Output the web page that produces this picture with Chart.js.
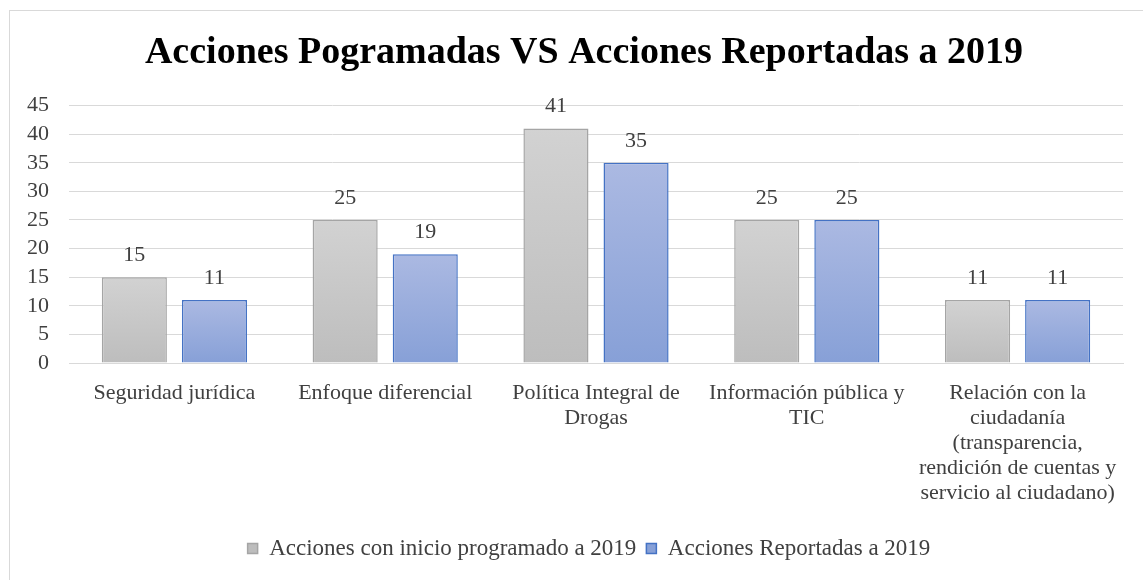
<!DOCTYPE html>
<html>
<head>
<meta charset="utf-8">
<script src="https://cdn.jsdelivr.net/npm/chart.js@4"></script>
<style>
  html, body { margin: 0; padding: 0; background: #fff; }
  #wrap { position: relative; width: 1143px; height: 580px; overflow: hidden; }
  #frame { position: absolute; left: 9px; top: 10px; width: 1160px; height: 600px;
           border: 1px solid #d9d9d9; box-sizing: border-box; }
  canvas { position: absolute; left: 0; top: 0; }
</style>
</head>
<body>
<div id="wrap">
  <div id="frame"></div>
  <canvas id="chart" width="1143" height="580"></canvas>
</div>
<script>
const categories = [
    ['Seguridad jurídica'],
    ['Enfoque diferencial'],
    ['Política Integral de', 'Drogas'],
    ['Información pública y', 'TIC'],
    ['Relación con la', 'ciudadanía', '(transparencia,', 'rendición de cuentas y', 'servicio al ciudadano)']
];
const programadas = [15, 25, 41, 25, 11];
const reportadas = [11, 19, 35, 25, 11];
const yTicks = [0, 5, 10, 15, 20, 25, 30, 35, 40, 45];

const serif = "'Liberation Serif', 'DejaVu Serif', serif";
const textColor = '#404040';

// gradient per bar, from its top down to the zero line
function barGradient(top, bottom) {
    return ctx => {
        const chart = ctx.chart;
        const y = chart.scales.y;
        if (!y || ctx.raw === undefined) return bottom;
        const y0 = y.getPixelForValue(0);
        const y1 = y.getPixelForValue(ctx.raw);
        if (!isFinite(y0) || !isFinite(y1) || y0 === y1) return bottom;
        const g = chart.ctx.createLinearGradient(0, y1, 0, y0);
        g.addColorStop(0, top);
        g.addColorStop(1, bottom);
        return g;
    };
}

const valueLabels = {
    id: 'valueLabels',
    afterDatasetsDraw(chart) {
        const c = chart.ctx;
        c.save();
        c.font = '22px ' + serif;
        c.fillStyle = textColor;
        c.textAlign = 'center';
        c.textBaseline = 'alphabetic';
        chart.data.datasets.forEach((ds, i) => {
            chart.getDatasetMeta(i).data.forEach((bar, j) => {
                c.fillText(ds.data[j], bar.x, bar.y - 16);
            });
        });
        c.restore();
    }
};

// the original chart is cropped on the right, so title and legend sit right of centre
const shiftBoxes = {
    id: 'shiftBoxes',
    afterLayout(chart) {
        chart.titleBlock.left += 19;
        chart.titleBlock.right += 19;
        chart.legend.left += 24;
        chart.legend.right += 24;
    }
};

new Chart(document.getElementById('chart').getContext('2d'), {
    type: 'bar',
    data: {
        labels: categories,
        datasets: [{
            label: 'Acciones con inicio programado a 2019',
            data: programadas,
            backgroundColor: barGradient('#d2d2d2', '#bdbdbd'),
            borderColor: '#a5a5a5',
            borderWidth: 1.5
        }, {
            label: 'Acciones Reportadas a 2019',
            data: reportadas,
            backgroundColor: barGradient('#abb9e2', '#87a0d7'),
            borderColor: '#4472c4',
            borderWidth: 1.5
        }]
    },
    options: {
        responsive: false,
        animation: false,
        events: [],
        categoryPercentage: 0.76,
        barPercentage: 0.8125,
        layout: { padding: { left: 7, right: 20, top: 0, bottom: 10 } },
        plugins: {
            title: {
                display: true,
                text: 'Acciones Pogramadas VS Acciones Reportadas a 2019',
                color: '#000',
                font: { family: serif, size: 38, weight: 'bold' },
                padding: { top: 30, bottom: 30 }
            },
            legend: {
                position: 'bottom',
                labels: {
                    color: textColor,
                    font: { family: serif, size: 23 },
                    boxWidth: 10,
                    boxHeight: 10,
                    padding: 10
                }
            },
            tooltip: { enabled: false }
        },
        scales: {
            x: {
                grid: { display: false, drawTicks: false },
                border: { display: true, color: '#d9d9d9' },
                afterFit: axis => { axis.height += 3; },
                ticks: {
                    color: textColor,
                    font: { family: serif, size: 22, lineHeight: 25 / 22 },
                    maxRotation: 0,
                    autoSkip: false,
                    padding: 18
                }
            },
            y: {
                min: 0,
                max: 45,
                afterBuildTicks: axis => { axis.ticks = yTicks.map(v => ({ value: v })); },
                grid: { color: '#d9d9d9', lineWidth: 1, drawTicks: false },
                border: { display: false },
                ticks: {
                    color: textColor,
                    font: { family: serif, size: 22 },
                    autoSkip: false,
                    padding: 20
                }
            }
        }
    },
    plugins: [valueLabels, shiftBoxes]
});
</script>
</body>
</html>
